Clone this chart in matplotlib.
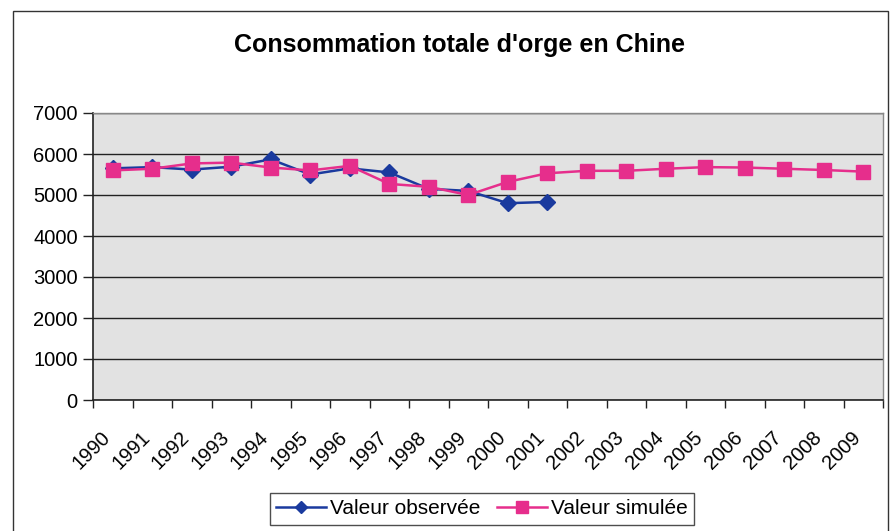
import numpy as np
import matplotlib
matplotlib.use("Agg")
import matplotlib.pyplot as plt
import matplotlib.transforms as mtransforms
from matplotlib.patches import Rectangle

plt.rcParams['font.family'] = ['Liberation Sans', 'DejaVu Sans']

years = [str(y) for y in range(1990, 2010)]
observed = [5650, 5680, 5620, 5690, 5870, 5500, 5650, 5550, 5150, 5100, 4800, 4830]
simulated = [5600, 5640, 5770, 5790, 5670, 5600, 5710, 5270, 5200, 5000,
             5320, 5530, 5590, 5590, 5640, 5680, 5670, 5640, 5610, 5570]

blue = '#1A3A9E'
pink = '#E62E8C'

fig = plt.figure(figsize=(8.91, 5.31), dpi=100)
fig.patch.set_facecolor('white')

# outer chart border
fig.patches.append(Rectangle((13 / 891, -0.05), (888 - 13) / 891, 1.05 - 11 / 531,
                             transform=fig.transFigure, fill=False,
                             edgecolor='#333333', linewidth=1.0))

ax = fig.add_axes([93 / 891, 1 - 400 / 531, 790 / 891, 287 / 531])
ax.set_facecolor('#E2E2E2')

x_obs = np.arange(len(observed)) + 0.5
x_sim = np.arange(len(simulated)) + 0.5
ax.plot(x_obs, observed, color=blue, linewidth=1.8, marker='D', markersize=8,
        markerfacecolor=blue, markeredgecolor=blue, label='Valeur observée', zorder=3)
ax.plot(x_sim, simulated, color=pink, linewidth=1.8, marker='s', markersize=10,
        markerfacecolor=pink, markeredgecolor=pink, label='Valeur simulée', zorder=4)

ax.set_xlim(0, len(years))
ax.set_ylim(0, 7000)
ax.set_yticks(np.arange(0, 7001, 1000))
ax.yaxis.grid(True, color='#222222', linewidth=1.0)
ax.set_axisbelow(True)

ax.set_xticks(np.arange(0, len(years) + 1))
ax.set_xticklabels([])
ax.set_xticks(np.arange(len(years)) + 0.5, minor=True)
ax.set_xticklabels(years, minor=True, rotation=45, ha='right',
                   rotation_mode='anchor', fontsize=14.5)
ax.tick_params(axis='x', which='major', direction='out', length=6, width=1, color='#222222')
ax.tick_params(axis='x', which='minor', length=0, pad=20)
ax.tick_params(axis='y', direction='out', length=7, width=1, color='#222222',
               labelsize=14.5, pad=4)

# shift the rotated year labels a little to the left, like the original
shift = mtransforms.ScaledTranslation(-12 / 100, 0, fig.dpi_scale_trans)
for lab in ax.get_xticklabels(minor=True):
    lab.set_transform(lab.get_transform() + shift)

for side in ['left', 'bottom']:
    ax.spines[side].set_color('#222222')
    ax.spines[side].set_linewidth(1.2)
for side in ['right', 'top']:
    ax.spines[side].set_color('#888888')
    ax.spines[side].set_linewidth(1.0)

fig.text(460 / 891, 1 - 45 / 531, "Consommation totale d'orge en Chine",
         ha='center', va='center', fontsize=18, fontweight='bold')

leg = fig.legend(loc='center', bbox_to_anchor=(482 / 891, 1 - 509 / 531), ncol=2,
                 fontsize=15, frameon=True, fancybox=False, edgecolor='#222222',
                 handlelength=2.4, columnspacing=0.8, handletextpad=0.2,
                 borderpad=0.3, markerscale=0.8)
leg.get_frame().set_linewidth(1.0)

plt.savefig('out.png', dpi=100)
